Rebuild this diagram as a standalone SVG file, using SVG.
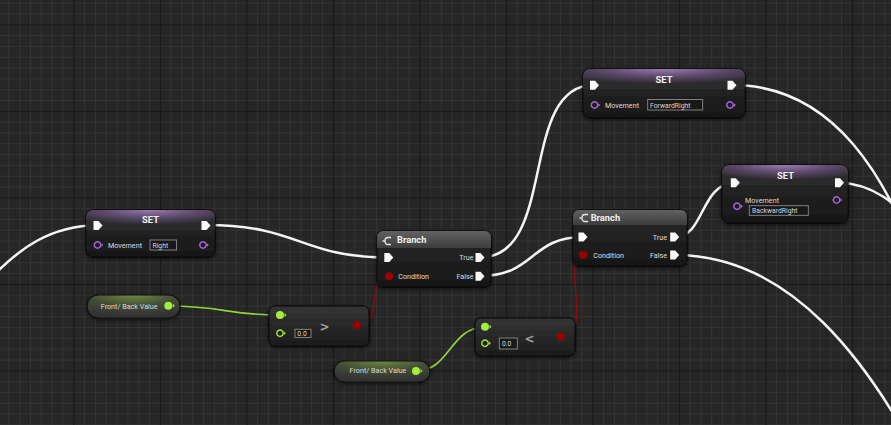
<svg xmlns="http://www.w3.org/2000/svg" width="891" height="425" viewBox="0 0 891 425">
<style>
.title{font-family:Roboto,"Liberation Sans",sans-serif;font-size:9.3px;font-weight:bold;fill:#f2f2f2}
.lbl{font-family:Roboto,"Liberation Sans",sans-serif;font-size:7.2px;fill:#dcdcdc}
.val{font-family:Roboto,"Liberation Sans",sans-serif;font-size:6.8px;fill:#d8d8d8}
.op{font-family:"DejaVu Sans",sans-serif;font-size:12px;font-weight:bold;fill:#a0a0a0}
.exw{fill:none;stroke:#f4f4f4;stroke-width:2.5;stroke-linecap:round}
.gw{fill:none;stroke:#93d23a;stroke-width:1.7}
.rw{fill:none;stroke:#8c0c0c;stroke-width:1.5}
.body{fill:url(#bodyG);stroke:#0b0b0b;stroke-width:1;filter:url(#sh)}
.cbody{fill:url(#cmpG);stroke:#0b0b0b;stroke-width:1;filter:url(#sh)}
.pill{fill:url(#pillG);stroke:#0e0e0e;stroke-width:1;filter:url(#sh)}
.vbox{fill:#181818;stroke:#8c8c8c;stroke-width:0.9}
.icon{fill:none;stroke:#e6e6e6;stroke-width:1.3}
</style>
<defs>
<pattern id="minor" patternUnits="userSpaceOnUse" x="8.4" y="2.7" width="10.8125" height="10.8125">
<rect width="10.8125" height="1" fill="#333333"/><rect width="1" height="10.8125" fill="#333333"/>
</pattern>
<pattern id="major" patternUnits="userSpaceOnUse" x="73.3" y="24.3" width="86.5" height="86.5">
<rect width="86.5" height="1.2" fill="#161616"/><rect width="1.2" height="86.5" fill="#161616"/>
</pattern>
<linearGradient id="bodyG" x1="0" y1="0" x2="0" y2="1">
<stop offset="0" stop-color="#2a2a2a"/><stop offset="1" stop-color="#171717"/>
</linearGradient>
<linearGradient id="cmpG" x1="0" y1="0" x2="0" y2="1">
<stop offset="0" stop-color="#343434"/><stop offset="1" stop-color="#1c1c1c"/>
</linearGradient>
<radialGradient id="setHead" cx="0.5" cy="0" r="0.75">
<stop offset="0" stop-color="#9a7ab2"/><stop offset="0.5" stop-color="#5d4a6b"/><stop offset="1" stop-color="#2a292b"/>
</radialGradient>
<linearGradient id="brHead" x1="0" y1="0" x2="0" y2="1">
<stop offset="0" stop-color="#626262"/><stop offset="1" stop-color="#3c3c3c"/>
</linearGradient>
<radialGradient id="pillG" cx="0.5" cy="0" r="0.9">
<stop offset="0" stop-color="#6f8a42"/><stop offset="0.55" stop-color="#414a35"/><stop offset="1" stop-color="#333333"/>
</radialGradient>
<filter id="sh" x="-20%" y="-30%" width="140%" height="160%">
<feDropShadow dx="0" dy="1" stdDeviation="2" flood-color="#000" flood-opacity="0.7"/>
</filter>
<path id="execPin" d="M -4.5 -4.5 H 0.5 L 4.5 0 L 0.5 4.5 H -4.5 Z" fill="#fafafa"/>
<g id="varPin"><circle r="3.2" fill="none" stroke="#a864dc" stroke-width="1.5"/><path d="M 4 -1.8 L 5.8 0 L 4 1.8 Z" fill="#a864dc"/></g>
<g id="gPin"><circle r="4" fill="#a4ec3e"/><path d="M 4.5 -2 L 6.5 0 L 4.5 2 Z" fill="#a4ec3e"/></g>
<g id="gPinO"><circle r="3.2" fill="none" stroke="#9ee03a" stroke-width="1.5"/><path d="M 4 -1.8 L 5.8 0 L 4 1.8 Z" fill="#9ee03a"/></g>
<g id="rPin"><circle r="4" fill="#9a0202"/></g>
</defs>

<rect width="891" height="425" fill="#262626"/>
<rect width="891" height="425" fill="url(#minor)"/>
<rect width="891" height="425" fill="url(#major)"/>

<g id="connectors">
<path class="exw" d="M -8 277 C 20 248, 50 226, 98 225"/>
<path class="exw" d="M 206 225 C 300 225, 300 257.5, 389 257.5"/>
<path class="exw" d="M 480 257.5 C 558 257.5, 518 85, 594 85"/>
<path class="exw" d="M 480 276 C 535 276, 530 237, 583 237"/>
<path class="exw" d="M 675 237 C 705 237, 700 183, 735 183"/>
<path class="exw" d="M 675 255 C 790 255, 870 360, 930 480"/>
<path class="exw" d="M 732 85 C 830 85, 890 170, 930 300"/>
<path class="exw" d="M 839 183 C 870 183, 895 200, 930 240"/>
<path class="gw" d="M 168 306 C 225 306, 225 315, 280 315"/>
<path class="gw" d="M 416 371 C 450 371, 450 327, 485 327"/>
<path class="rw" d="M 357 325 C 385 325, 365 276, 389 276"/>
<path class="rw" d="M 561 337 C 595 337, 560 255, 583 255"/>
</g>

<g id="set1">
<rect class="body" x="86" y="210" width="129" height="47" rx="7"/>
<path d="M 86 217 A 7 7 0 0 1 93 210 H 208 A 7 7 0 0 1 215 217 V 230 H 86 Z" fill="url(#setHead)"/>
<text class="title" x="150.5" y="223" text-anchor="middle">SET</text>
<use href="#execPin" x="98" y="225.5"/>
<use href="#execPin" x="206" y="225.5"/>
<use href="#varPin" x="97.5" y="245"/>
<text class="lbl" x="108" y="247.5">Movement</text>
<rect class="vbox" x="150" y="240" width="26.5" height="10"/>
<text class="val" x="152.5" y="247.6">Right</text>
<use href="#varPin" x="203" y="245"/>
</g>

<g id="set2">
<rect class="body" x="583" y="69" width="162" height="49" rx="7"/>
<path d="M 583 76 A 7 7 0 0 1 590 69 H 738 A 7 7 0 0 1 745 76 V 89 H 583 Z" fill="url(#setHead)"/>
<text class="title" x="664" y="83.3" text-anchor="middle">SET</text>
<use href="#execPin" x="594.5" y="85.3"/>
<use href="#execPin" x="732" y="85.3"/>
<use href="#varPin" x="594.5" y="105"/>
<text class="lbl" x="605" y="107.5">Movement</text>
<rect class="vbox" x="647.7" y="99.5" width="55" height="10.5"/>
<text class="val" x="650" y="107.5">ForwardRight</text>
<use href="#varPin" x="730" y="105"/>
</g>

<g id="set3">
<rect class="body" x="722" y="165" width="126" height="58" rx="7"/>
<path d="M 722 172 A 7 7 0 0 1 729 165 H 841 A 7 7 0 0 1 848 172 V 185 H 722 Z" fill="url(#setHead)"/>
<text class="title" x="785.5" y="179.3" text-anchor="middle">SET</text>
<use href="#execPin" x="735.3" y="182.8"/>
<use href="#execPin" x="839.5" y="182.8"/>
<use href="#varPin" x="737" y="206.3"/>
<text class="lbl" x="745" y="202.7">Movement</text>
<rect class="vbox" x="749.3" y="205.7" width="59" height="9.6"/>
<text class="val" x="752" y="213.2">BackwardRight</text>
<use href="#varPin" x="836.5" y="200"/>
</g>

<g id="branch1">
<rect class="body" x="377" y="231" width="114" height="56" rx="6"/>
<path d="M 377 237 A 6 6 0 0 1 383 231 H 485 A 6 6 0 0 1 491 237 V 248 H 377 Z" fill="url(#brHead)"/>
<path class="icon" d="M 391 237.5 H 388 Q 385 237.5 385 241 Q 385 244.5 388 244.5 H 391 M 382.5 241 H 385"/>
<text class="title" x="397" y="243.3">Branch</text>
<use href="#execPin" x="388.8" y="257.6"/>
<text class="lbl" x="473.5" y="260.3" text-anchor="end">True</text>
<use href="#execPin" x="480" y="257.6"/>
<use href="#rPin" x="389" y="276.3"/>
<text class="lbl" x="398.3" y="279">Condition</text>
<text class="lbl" x="473.5" y="279" text-anchor="end">False</text>
<use href="#execPin" x="480" y="276.3"/>
</g>

<g id="branch2">
<rect class="body" x="573" y="210" width="114" height="56" rx="6"/>
<path d="M 573 216 A 6 6 0 0 1 579 210 H 681 A 6 6 0 0 1 687 216 V 225 H 573 Z" fill="url(#brHead)"/>
<path class="icon" d="M 588 214.5 H 585 Q 582 214.5 582 218 Q 582 221.5 585 221.5 H 588 M 579.5 218 H 582"/>
<text class="title" x="590.7" y="220.7">Branch</text>
<use href="#execPin" x="583" y="237"/>
<text class="lbl" x="667" y="239.7" text-anchor="end">True</text>
<use href="#execPin" x="674.7" y="237"/>
<use href="#rPin" x="583" y="255"/>
<text class="lbl" x="593.3" y="257.7">Condition</text>
<text class="lbl" x="667" y="257.7" text-anchor="end">False</text>
<use href="#execPin" x="674.7" y="255"/>
</g>

<g id="frontback1">
<rect class="pill" x="87" y="295" width="93" height="23" rx="11.5"/>
<text class="lbl" x="129.2" y="309" text-anchor="middle">Front/ Back Value</text>
<use href="#gPin" x="168.3" y="305.7"/>
</g>

<g id="frontback2">
<rect class="pill" x="334" y="361" width="96" height="21" rx="10.5"/>
<text class="lbl" x="378" y="372.5" text-anchor="middle">Front/ Back Value</text>
<use href="#gPin" x="416" y="371"/>
</g>

<g id="greater">
<rect class="cbody" x="269" y="306" width="100" height="40" rx="6"/>
<use href="#gPin" x="280" y="315"/>
<use href="#gPinO" x="280" y="333.3"/>
<rect class="vbox" x="295" y="329.3" width="16" height="8.2"/>
<text class="val" x="297.3" y="336.2">0.0</text>
<text class="op" x="319.5" y="330.5">&gt;</text>
<use href="#rPin" x="356.7" y="325"/>
</g>

<g id="less">
<rect class="cbody" x="475" y="318" width="100" height="38" rx="6"/>
<use href="#gPin" x="485" y="326.7"/>
<use href="#gPinO" x="485" y="343.3"/>
<rect class="vbox" x="499.3" y="338" width="18" height="11"/>
<text class="val" x="502" y="346.3">0.0</text>
<text class="op" x="524.5" y="342.5">&lt;</text>
<use href="#rPin" x="560.7" y="336.7"/>
</g>
</svg>
